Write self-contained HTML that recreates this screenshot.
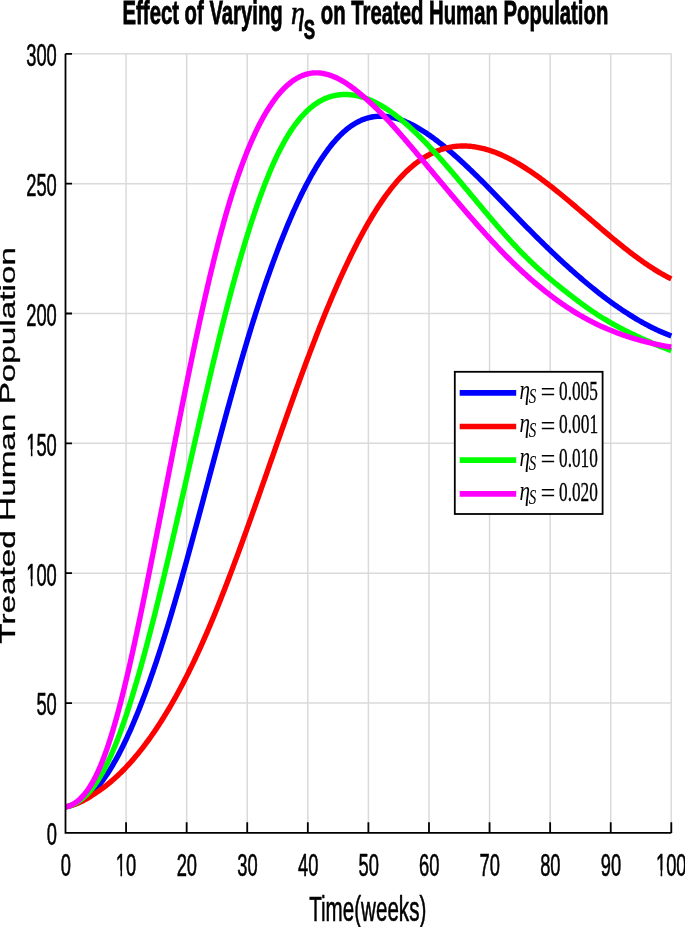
<!DOCTYPE html>
<html><head><meta charset="utf-8"><style>
html,body{margin:0;padding:0;background:#fff;overflow:hidden;}
svg{display:block;will-change:transform;}
text{fill:#000;}
</style></head><body>
<svg width="685" height="927" viewBox="0 0 685 927">
<rect x="0" y="0" width="685" height="927" fill="#fff"/>
<path d="M126.08,53.80V832.90M186.66,53.80V832.90M247.24,53.80V832.90M307.82,53.80V832.90M368.40,53.80V832.90M428.98,53.80V832.90M489.56,53.80V832.90M550.14,53.80V832.90M610.72,53.80V832.90M671.30,53.80V832.90M65.50,703.05H671.30M65.50,573.20H671.30M65.50,443.35H671.30M65.50,313.50H671.30M65.50,183.65H671.30M65.50,53.80H671.30" stroke="#dadada" stroke-width="1.5" fill="none"/>
<path d="M65.50,806.93 L66.71,806.68 L67.92,806.38 L69.13,806.05 L70.35,805.68 L71.56,805.27 L72.77,804.82 L73.98,804.33 L75.19,803.80 L76.40,803.23 L77.62,802.62 L78.83,801.97 L80.04,801.28 L81.25,800.54 L82.46,799.77 L83.67,798.95 L84.89,798.09 L86.10,797.21 L87.31,796.30 L88.52,795.35 L89.73,794.37 L90.94,793.34 L92.16,792.26 L93.37,791.13 L94.58,789.95 L95.79,788.71 L97.00,787.41 L98.21,786.05 L99.42,784.63 L100.64,783.13 L101.85,781.58 L103.06,779.96 L104.27,778.28 L105.48,776.54 L106.69,774.75 L107.91,772.90 L109.12,771.01 L110.33,769.08 L111.54,767.09 L112.75,765.05 L113.96,762.97 L115.18,760.83 L116.39,758.65 L117.60,756.42 L118.81,754.14 L120.02,751.81 L121.23,749.44 L122.45,747.02 L123.66,744.56 L124.87,742.04 L126.08,739.49 L127.29,736.88 L128.50,734.23 L129.71,731.54 L130.93,728.80 L132.14,726.02 L133.35,723.19 L134.56,720.32 L135.77,717.41 L136.98,714.45 L138.20,711.46 L139.41,708.41 L140.62,705.33 L141.83,702.20 L143.04,699.04 L144.25,695.83 L145.47,692.58 L146.68,689.29 L147.89,685.96 L149.10,682.59 L150.31,679.18 L151.52,675.73 L152.74,672.24 L153.95,668.72 L155.16,665.15 L156.37,661.55 L157.58,657.91 L158.79,654.23 L160.00,650.51 L161.22,646.76 L162.43,642.97 L163.64,639.14 L164.85,635.28 L166.06,631.38 L167.27,627.45 L168.49,623.48 L169.70,619.48 L170.91,615.45 L172.12,611.39 L173.33,607.30 L174.54,603.18 L175.76,599.03 L176.97,594.85 L178.18,590.65 L179.39,586.43 L180.60,582.17 L181.81,577.90 L183.03,573.61 L184.24,569.29 L185.45,564.95 L186.66,560.60 L187.87,556.22 L189.08,551.83 L190.29,547.43 L191.51,543.01 L192.72,538.57 L193.93,534.12 L195.14,529.66 L196.35,525.19 L197.56,520.71 L198.78,516.22 L199.99,511.72 L201.20,507.21 L202.41,502.70 L203.62,498.19 L204.83,493.67 L206.05,489.14 L207.26,484.62 L208.47,480.09 L209.68,475.56 L210.89,471.04 L212.10,466.51 L213.32,461.99 L214.53,457.47 L215.74,452.96 L216.95,448.46 L218.16,443.96 L219.37,439.46 L220.58,434.98 L221.80,430.51 L223.01,426.05 L224.22,421.60 L225.43,417.16 L226.64,412.74 L227.85,408.33 L229.07,403.93 L230.28,399.56 L231.49,395.20 L232.70,390.86 L233.91,386.54 L235.12,382.24 L236.34,377.97 L237.55,373.71 L238.76,369.48 L239.97,365.28 L241.18,361.10 L242.39,356.94 L243.61,352.82 L244.82,348.72 L246.03,344.66 L247.24,340.62 L248.45,336.62 L249.66,332.64 L250.87,328.70 L252.09,324.80 L253.30,320.92 L254.51,317.08 L255.72,313.27 L256.93,309.49 L258.14,305.74 L259.36,302.03 L260.57,298.35 L261.78,294.70 L262.99,291.09 L264.20,287.51 L265.41,283.96 L266.63,280.45 L267.84,276.97 L269.05,273.53 L270.26,270.12 L271.47,266.74 L272.68,263.40 L273.90,260.09 L275.11,256.82 L276.32,253.58 L277.53,250.37 L278.74,247.20 L279.95,244.07 L281.16,240.97 L282.38,237.91 L283.59,234.88 L284.80,231.89 L286.01,228.93 L287.22,226.01 L288.43,223.12 L289.65,220.28 L290.86,217.46 L292.07,214.69 L293.28,211.95 L294.49,209.24 L295.70,206.58 L296.92,203.95 L298.13,201.35 L299.34,198.80 L300.55,196.28 L301.76,193.80 L302.97,191.36 L304.19,188.95 L305.40,186.58 L306.61,184.25 L307.82,181.96 L309.03,179.70 L310.24,177.49 L311.45,175.31 L312.67,173.17 L313.88,171.07 L315.09,169.01 L316.30,166.98 L317.51,165.00 L318.72,163.06 L319.94,161.15 L321.15,159.28 L322.36,157.46 L323.57,155.67 L324.78,153.92 L325.99,152.22 L327.21,150.55 L328.42,148.92 L329.63,147.33 L330.84,145.79 L332.05,144.28 L333.26,142.82 L334.48,141.39 L335.69,140.01 L336.90,138.67 L338.11,137.36 L339.32,136.10 L340.53,134.89 L341.74,133.71 L342.96,132.57 L344.17,131.48 L345.38,130.43 L346.59,129.42 L347.80,128.45 L349.01,127.52 L350.23,126.63 L351.44,125.78 L352.65,124.97 L353.86,124.19 L355.07,123.46 L356.28,122.77 L357.50,122.11 L358.71,121.49 L359.92,120.90 L361.13,120.35 L362.34,119.84 L363.55,119.37 L364.77,118.92 L365.98,118.52 L367.19,118.15 L368.40,117.81 L369.61,117.50 L370.82,117.23 L372.03,116.99 L373.25,116.78 L374.46,116.61 L375.67,116.46 L376.88,116.35 L378.09,116.27 L379.30,116.22 L380.52,116.19 L381.73,116.20 L382.94,116.24 L384.15,116.30 L385.36,116.39 L386.57,116.51 L387.79,116.66 L389.00,116.83 L390.21,117.04 L391.42,117.26 L392.63,117.51 L393.84,117.79 L395.06,118.09 L396.27,118.42 L397.48,118.77 L398.69,119.15 L399.90,119.54 L401.11,119.97 L402.32,120.41 L403.54,120.87 L404.75,121.36 L405.96,121.87 L407.17,122.40 L408.38,122.94 L409.59,123.51 L410.81,124.10 L412.02,124.71 L413.23,125.33 L414.44,125.98 L415.65,126.64 L416.86,127.32 L418.08,128.01 L419.29,128.73 L420.50,129.46 L421.71,130.20 L422.92,130.96 L424.13,131.74 L425.35,132.53 L426.56,133.33 L427.77,134.15 L428.98,134.98 L430.19,135.82 L431.40,136.68 L432.61,137.55 L433.83,138.43 L435.04,139.32 L436.25,140.23 L437.46,141.15 L438.67,142.07 L439.88,143.02 L441.10,143.97 L442.31,144.93 L443.52,145.90 L444.73,146.88 L445.94,147.88 L447.15,148.88 L448.37,149.90 L449.58,150.92 L450.79,151.95 L452.00,153.00 L453.21,154.05 L454.42,155.11 L455.64,156.18 L456.85,157.25 L458.06,158.34 L459.27,159.43 L460.48,160.54 L461.69,161.65 L462.90,162.76 L464.12,163.89 L465.33,165.02 L466.54,166.16 L467.75,167.30 L468.96,168.46 L470.17,169.61 L471.39,170.78 L472.60,171.95 L473.81,173.13 L475.02,174.31 L476.23,175.49 L477.44,176.69 L478.66,177.88 L479.87,179.09 L481.08,180.29 L482.29,181.50 L483.50,182.72 L484.71,183.94 L485.93,185.16 L487.14,186.38 L488.35,187.61 L489.56,188.85 L490.77,190.08 L491.98,191.32 L493.19,192.56 L494.41,193.80 L495.62,195.05 L496.83,196.30 L498.04,197.54 L499.25,198.80 L500.46,200.05 L501.68,201.30 L502.89,202.55 L504.10,203.81 L505.31,205.06 L506.52,206.32 L507.73,207.57 L508.95,208.83 L510.16,210.09 L511.37,211.34 L512.58,212.59 L513.79,213.85 L515.00,215.10 L516.22,216.35 L517.43,217.60 L518.64,218.85 L519.85,220.10 L521.06,221.34 L522.27,222.58 L523.48,223.82 L524.70,225.06 L525.91,226.29 L527.12,227.52 L528.33,228.75 L529.54,229.97 L530.75,231.20 L531.97,232.41 L533.18,233.63 L534.39,234.84 L535.60,236.05 L536.81,237.26 L538.02,238.46 L539.24,239.66 L540.45,240.85 L541.66,242.04 L542.87,243.23 L544.08,244.41 L545.29,245.59 L546.51,246.77 L547.72,247.94 L548.93,249.11 L550.14,250.27 L551.35,251.43 L552.56,252.59 L553.77,253.74 L554.99,254.88 L556.20,256.03 L557.41,257.17 L558.62,258.30 L559.83,259.43 L561.04,260.55 L562.26,261.67 L563.47,262.79 L564.68,263.90 L565.89,265.00 L567.10,266.10 L568.31,267.20 L569.53,268.29 L570.74,269.38 L571.95,270.46 L573.16,271.53 L574.37,272.60 L575.58,273.67 L576.80,274.73 L578.01,275.78 L579.22,276.83 L580.43,277.87 L581.64,278.91 L582.85,279.94 L584.06,280.97 L585.28,281.99 L586.49,283.00 L587.70,284.01 L588.91,285.01 L590.12,286.01 L591.33,287.00 L592.55,287.99 L593.76,288.96 L594.97,289.94 L596.18,290.90 L597.39,291.86 L598.60,292.81 L599.82,293.76 L601.03,294.70 L602.24,295.63 L603.45,296.56 L604.66,297.48 L605.87,298.39 L607.09,299.30 L608.30,300.20 L609.51,301.09 L610.72,301.98 L611.93,302.85 L613.14,303.73 L614.35,304.59 L615.57,305.45 L616.78,306.30 L617.99,307.14 L619.20,307.97 L620.41,308.80 L621.62,309.62 L622.84,310.43 L624.05,311.24 L625.26,312.03 L626.47,312.82 L627.68,313.60 L628.89,314.38 L630.11,315.14 L631.32,315.90 L632.53,316.65 L633.74,317.39 L634.95,318.12 L636.16,318.85 L637.38,319.56 L638.59,320.27 L639.80,320.97 L641.01,321.66 L642.22,322.34 L643.43,323.02 L644.64,323.68 L645.86,324.34 L647.07,324.99 L648.28,325.62 L649.49,326.25 L650.70,326.88 L651.91,327.49 L653.13,328.09 L654.34,328.68 L655.55,329.27 L656.76,329.84 L657.97,330.41 L659.18,330.97 L660.40,331.51 L661.61,332.05 L662.82,332.58 L664.03,333.10 L665.24,333.61 L666.45,334.11 L667.67,334.60 L668.88,335.08 L670.09,335.55 L671.30,336.01" stroke="#0000ff" stroke-width="5.4" fill="none" stroke-linejoin="round"/>
<path d="M65.50,806.93 L66.71,806.68 L67.92,806.40 L69.13,806.10 L70.35,805.77 L71.56,805.40 L72.77,805.01 L73.98,804.60 L75.19,804.16 L76.40,803.69 L77.62,803.19 L78.83,802.67 L80.04,802.13 L81.25,801.55 L82.46,800.96 L83.67,800.34 L84.89,799.69 L86.10,799.02 L87.31,798.32 L88.52,797.60 L89.73,796.86 L90.94,796.10 L92.16,795.33 L93.37,794.54 L94.58,793.74 L95.79,792.94 L97.00,792.12 L98.21,791.29 L99.42,790.45 L100.64,789.60 L101.85,788.74 L103.06,787.86 L104.27,786.97 L105.48,786.06 L106.69,785.12 L107.91,784.16 L109.12,783.17 L110.33,782.16 L111.54,781.13 L112.75,780.08 L113.96,779.02 L115.18,777.93 L116.39,776.82 L117.60,775.70 L118.81,774.55 L120.02,773.38 L121.23,772.20 L122.45,770.99 L123.66,769.76 L124.87,768.51 L126.08,767.25 L127.29,765.96 L128.50,764.65 L129.71,763.32 L130.93,761.96 L132.14,760.59 L133.35,759.20 L134.56,757.78 L135.77,756.35 L136.98,754.89 L138.20,753.42 L139.41,751.92 L140.62,750.40 L141.83,748.86 L143.04,747.29 L144.25,745.71 L145.47,744.10 L146.68,742.47 L147.89,740.82 L149.10,739.15 L150.31,737.46 L151.52,735.74 L152.74,734.01 L153.95,732.25 L155.16,730.46 L156.37,728.66 L157.58,726.83 L158.79,724.98 L160.00,723.11 L161.22,721.22 L162.43,719.30 L163.64,717.36 L164.85,715.40 L166.06,713.42 L167.27,711.41 L168.49,709.38 L169.70,707.32 L170.91,705.25 L172.12,703.15 L173.33,701.02 L174.54,698.87 L175.76,696.70 L176.97,694.51 L178.18,692.29 L179.39,690.05 L180.60,687.79 L181.81,685.50 L183.03,683.19 L184.24,680.85 L185.45,678.49 L186.66,676.10 L187.87,673.70 L189.08,671.26 L190.29,668.81 L191.51,666.32 L192.72,663.82 L193.93,661.29 L195.14,658.73 L196.35,656.15 L197.56,653.55 L198.78,650.92 L199.99,648.27 L201.20,645.59 L202.41,642.88 L203.62,640.15 L204.83,637.40 L206.05,634.62 L207.26,631.82 L208.47,628.99 L209.68,626.13 L210.89,623.25 L212.10,620.35 L213.32,617.43 L214.53,614.48 L215.74,611.51 L216.95,608.53 L218.16,605.51 L219.37,602.48 L220.58,599.43 L221.80,596.36 L223.01,593.27 L224.22,590.16 L225.43,587.04 L226.64,583.89 L227.85,580.73 L229.07,577.55 L230.28,574.36 L231.49,571.15 L232.70,567.92 L233.91,564.68 L235.12,561.43 L236.34,558.16 L237.55,554.88 L238.76,551.58 L239.97,548.28 L241.18,544.96 L242.39,541.63 L243.61,538.29 L244.82,534.94 L246.03,531.57 L247.24,528.20 L248.45,524.82 L249.66,521.43 L250.87,518.04 L252.09,514.63 L253.30,511.22 L254.51,507.80 L255.72,504.38 L256.93,500.95 L258.14,497.51 L259.36,494.07 L260.57,490.63 L261.78,487.18 L262.99,483.73 L264.20,480.27 L265.41,476.82 L266.63,473.36 L267.84,469.90 L269.05,466.44 L270.26,462.98 L271.47,459.51 L272.68,456.05 L273.90,452.59 L275.11,449.14 L276.32,445.68 L277.53,442.22 L278.74,438.77 L279.95,435.33 L281.16,431.88 L282.38,428.44 L283.59,425.01 L284.80,421.58 L286.01,418.15 L287.22,414.74 L288.43,411.33 L289.65,407.92 L290.86,404.53 L292.07,401.14 L293.28,397.76 L294.49,394.39 L295.70,391.03 L296.92,387.68 L298.13,384.34 L299.34,381.01 L300.55,377.69 L301.76,374.39 L302.97,371.09 L304.19,367.81 L305.40,364.55 L306.61,361.30 L307.82,358.06 L309.03,354.83 L310.24,351.63 L311.45,348.43 L312.67,345.26 L313.88,342.10 L315.09,338.96 L316.30,335.83 L317.51,332.73 L318.72,329.64 L319.94,326.57 L321.15,323.52 L322.36,320.49 L323.57,317.48 L324.78,314.50 L325.99,311.53 L327.21,308.59 L328.42,305.67 L329.63,302.77 L330.84,299.89 L332.05,297.03 L333.26,294.20 L334.48,291.39 L335.69,288.60 L336.90,285.84 L338.11,283.10 L339.32,280.38 L340.53,277.69 L341.74,275.02 L342.96,272.38 L344.17,269.75 L345.38,267.16 L346.59,264.58 L347.80,262.04 L349.01,259.51 L350.23,257.01 L351.44,254.54 L352.65,252.09 L353.86,249.67 L355.07,247.27 L356.28,244.90 L357.50,242.56 L358.71,240.24 L359.92,237.95 L361.13,235.68 L362.34,233.44 L363.55,231.23 L364.77,229.04 L365.98,226.89 L367.19,224.75 L368.40,222.65 L369.61,220.58 L370.82,218.53 L372.03,216.51 L373.25,214.51 L374.46,212.55 L375.67,210.62 L376.88,208.71 L378.09,206.83 L379.30,204.98 L380.52,203.16 L381.73,201.37 L382.94,199.61 L384.15,197.88 L385.36,196.18 L386.57,194.51 L387.79,192.87 L389.00,191.26 L390.21,189.68 L391.42,188.13 L392.63,186.61 L393.84,185.12 L395.06,183.66 L396.27,182.24 L397.48,180.84 L398.69,179.48 L399.90,178.15 L401.11,176.84 L402.32,175.57 L403.54,174.33 L404.75,173.11 L405.96,171.93 L407.17,170.77 L408.38,169.65 L409.59,168.55 L410.81,167.48 L412.02,166.44 L413.23,165.43 L414.44,164.45 L415.65,163.49 L416.86,162.57 L418.08,161.67 L419.29,160.80 L420.50,159.95 L421.71,159.13 L422.92,158.34 L424.13,157.58 L425.35,156.84 L426.56,156.12 L427.77,155.44 L428.98,154.78 L430.19,154.14 L431.40,153.53 L432.61,152.95 L433.83,152.39 L435.04,151.86 L436.25,151.35 L437.46,150.86 L438.67,150.40 L439.88,149.96 L441.10,149.55 L442.31,149.16 L443.52,148.80 L444.73,148.45 L445.94,148.13 L447.15,147.84 L448.37,147.56 L449.58,147.31 L450.79,147.08 L452.00,146.88 L453.21,146.69 L454.42,146.53 L455.64,146.39 L456.85,146.27 L458.06,146.17 L459.27,146.09 L460.48,146.03 L461.69,146.00 L462.90,145.98 L464.12,145.98 L465.33,146.01 L466.54,146.05 L467.75,146.11 L468.96,146.20 L470.17,146.30 L471.39,146.42 L472.60,146.56 L473.81,146.72 L475.02,146.89 L476.23,147.09 L477.44,147.30 L478.66,147.53 L479.87,147.78 L481.08,148.05 L482.29,148.33 L483.50,148.63 L484.71,148.95 L485.93,149.28 L487.14,149.63 L488.35,150.00 L489.56,150.38 L490.77,150.78 L491.98,151.19 L493.19,151.62 L494.41,152.07 L495.62,152.53 L496.83,153.00 L498.04,153.49 L499.25,154.00 L500.46,154.52 L501.68,155.05 L502.89,155.60 L504.10,156.16 L505.31,156.73 L506.52,157.32 L507.73,157.92 L508.95,158.54 L510.16,159.17 L511.37,159.80 L512.58,160.46 L513.79,161.12 L515.00,161.80 L516.22,162.49 L517.43,163.19 L518.64,163.90 L519.85,164.62 L521.06,165.35 L522.27,166.10 L523.48,166.85 L524.70,167.62 L525.91,168.39 L527.12,169.18 L528.33,169.98 L529.54,170.78 L530.75,171.60 L531.97,172.42 L533.18,173.25 L534.39,174.10 L535.60,174.95 L536.81,175.81 L538.02,176.68 L539.24,177.55 L540.45,178.44 L541.66,179.33 L542.87,180.23 L544.08,181.13 L545.29,182.05 L546.51,182.97 L547.72,183.90 L548.93,184.83 L550.14,185.77 L551.35,186.72 L552.56,187.67 L553.77,188.63 L554.99,189.60 L556.20,190.57 L557.41,191.54 L558.62,192.52 L559.83,193.51 L561.04,194.50 L562.26,195.49 L563.47,196.49 L564.68,197.49 L565.89,198.50 L567.10,199.51 L568.31,200.52 L569.53,201.54 L570.74,202.56 L571.95,203.58 L573.16,204.61 L574.37,205.64 L575.58,206.67 L576.80,207.70 L578.01,208.74 L579.22,209.77 L580.43,210.81 L581.64,211.85 L582.85,212.89 L584.06,213.93 L585.28,214.97 L586.49,216.02 L587.70,217.06 L588.91,218.10 L590.12,219.15 L591.33,220.19 L592.55,221.23 L593.76,222.27 L594.97,223.32 L596.18,224.36 L597.39,225.40 L598.60,226.43 L599.82,227.47 L601.03,228.50 L602.24,229.54 L603.45,230.57 L604.66,231.60 L605.87,232.62 L607.09,233.65 L608.30,234.67 L609.51,235.68 L610.72,236.70 L611.93,237.71 L613.14,238.71 L614.35,239.72 L615.57,240.71 L616.78,241.71 L617.99,242.70 L619.20,243.68 L620.41,244.66 L621.62,245.64 L622.84,246.61 L624.05,247.57 L625.26,248.53 L626.47,249.49 L627.68,250.43 L628.89,251.37 L630.11,252.31 L631.32,253.24 L632.53,254.16 L633.74,255.07 L634.95,255.98 L636.16,256.88 L637.38,257.77 L638.59,258.66 L639.80,259.53 L641.01,260.40 L642.22,261.26 L643.43,262.11 L644.64,262.95 L645.86,263.79 L647.07,264.61 L648.28,265.43 L649.49,266.23 L650.70,267.03 L651.91,267.82 L653.13,268.59 L654.34,269.36 L655.55,270.11 L656.76,270.86 L657.97,271.59 L659.18,272.31 L660.40,273.03 L661.61,273.73 L662.82,274.41 L664.03,275.09 L665.24,275.76 L666.45,276.41 L667.67,277.05 L668.88,277.67 L670.09,278.29 L671.30,278.89" stroke="#ff0000" stroke-width="5.4" fill="none" stroke-linejoin="round"/>
<path d="M65.50,806.93 L66.71,806.67 L67.92,806.37 L69.13,806.01 L70.35,805.60 L71.56,805.14 L72.77,804.63 L73.98,804.06 L75.19,803.44 L76.40,802.77 L77.62,802.03 L78.83,801.24 L80.04,800.39 L81.25,799.49 L82.46,798.52 L83.67,797.49 L84.89,796.40 L86.10,795.25 L87.31,794.03 L88.52,792.75 L89.73,791.40 L90.94,789.98 L92.16,788.49 L93.37,786.93 L94.58,785.28 L95.79,783.56 L97.00,781.76 L98.21,779.89 L99.42,777.93 L100.64,775.89 L101.85,773.78 L103.06,771.58 L104.27,769.31 L105.48,766.96 L106.69,764.54 L107.91,762.04 L109.12,759.47 L110.33,756.82 L111.54,754.09 L112.75,751.28 L113.96,748.40 L115.18,745.43 L116.39,742.40 L117.60,739.29 L118.81,736.10 L120.02,732.85 L121.23,729.52 L122.45,726.13 L123.66,722.66 L124.87,719.13 L126.08,715.54 L127.29,711.88 L128.50,708.15 L129.71,704.37 L130.93,700.52 L132.14,696.61 L133.35,692.65 L134.56,688.62 L135.77,684.54 L136.98,680.41 L138.20,676.22 L139.41,671.98 L140.62,667.68 L141.83,663.34 L143.04,658.95 L144.25,654.50 L145.47,650.01 L146.68,645.48 L147.89,640.90 L149.10,636.28 L150.31,631.61 L151.52,626.90 L152.74,622.15 L153.95,617.37 L155.16,612.54 L156.37,607.68 L157.58,602.79 L158.79,597.86 L160.00,592.89 L161.22,587.90 L162.43,582.87 L163.64,577.82 L164.85,572.74 L166.06,567.63 L167.27,562.50 L168.49,557.34 L169.70,552.16 L170.91,546.96 L172.12,541.75 L173.33,536.51 L174.54,531.26 L175.76,525.99 L176.97,520.71 L178.18,515.41 L179.39,510.11 L180.60,504.79 L181.81,499.47 L183.03,494.13 L184.24,488.80 L185.45,483.45 L186.66,478.11 L187.87,472.76 L189.08,467.41 L190.29,462.06 L191.51,456.72 L192.72,451.38 L193.93,446.04 L195.14,440.71 L196.35,435.38 L197.56,430.07 L198.78,424.76 L199.99,419.47 L201.20,414.19 L202.41,408.92 L203.62,403.67 L204.83,398.44 L206.05,393.23 L207.26,388.03 L208.47,382.85 L209.68,377.70 L210.89,372.57 L212.10,367.47 L213.32,362.39 L214.53,357.34 L215.74,352.32 L216.95,347.33 L218.16,342.37 L219.37,337.44 L220.58,332.55 L221.80,327.70 L223.01,322.88 L224.22,318.10 L225.43,313.36 L226.64,308.66 L227.85,304.00 L229.07,299.38 L230.28,294.80 L231.49,290.27 L232.70,285.78 L233.91,281.34 L235.12,276.94 L236.34,272.58 L237.55,268.27 L238.76,264.00 L239.97,259.78 L241.18,255.61 L242.39,251.48 L243.61,247.41 L244.82,243.38 L246.03,239.40 L247.24,235.46 L248.45,231.58 L249.66,227.75 L250.87,223.97 L252.09,220.24 L253.30,216.56 L254.51,212.94 L255.72,209.37 L256.93,205.85 L258.14,202.38 L259.36,198.97 L260.57,195.62 L261.78,192.32 L262.99,189.07 L264.20,185.88 L265.41,182.75 L266.63,179.68 L267.84,176.66 L269.05,173.71 L270.26,170.81 L271.47,167.97 L272.68,165.19 L273.90,162.47 L275.11,159.81 L276.32,157.21 L277.53,154.68 L278.74,152.21 L279.95,149.80 L281.16,147.45 L282.38,145.17 L283.59,142.94 L284.80,140.78 L286.01,138.67 L287.22,136.63 L288.43,134.64 L289.65,132.71 L290.86,130.84 L292.07,129.02 L293.28,127.26 L294.49,125.55 L295.70,123.90 L296.92,122.30 L298.13,120.76 L299.34,119.26 L300.55,117.82 L301.76,116.43 L302.97,115.09 L304.19,113.80 L305.40,112.55 L306.61,111.36 L307.82,110.21 L309.03,109.11 L310.24,108.06 L311.45,107.05 L312.67,106.08 L313.88,105.16 L315.09,104.28 L316.30,103.45 L317.51,102.66 L318.72,101.91 L319.94,101.20 L321.15,100.53 L322.36,99.89 L323.57,99.30 L324.78,98.75 L325.99,98.23 L327.21,97.75 L328.42,97.31 L329.63,96.90 L330.84,96.52 L332.05,96.18 L333.26,95.87 L334.48,95.60 L335.69,95.36 L336.90,95.14 L338.11,94.96 L339.32,94.81 L340.53,94.69 L341.74,94.60 L342.96,94.53 L344.17,94.49 L345.38,94.49 L346.59,94.50 L347.80,94.55 L349.01,94.62 L350.23,94.72 L351.44,94.85 L352.65,95.00 L353.86,95.18 L355.07,95.39 L356.28,95.62 L357.50,95.88 L358.71,96.16 L359.92,96.46 L361.13,96.79 L362.34,97.15 L363.55,97.53 L364.77,97.93 L365.98,98.35 L367.19,98.80 L368.40,99.27 L369.61,99.77 L370.82,100.29 L372.03,100.82 L373.25,101.39 L374.46,101.97 L375.67,102.57 L376.88,103.20 L378.09,103.84 L379.30,104.51 L380.52,105.19 L381.73,105.90 L382.94,106.63 L384.15,107.37 L385.36,108.14 L386.57,108.92 L387.79,109.72 L389.00,110.54 L390.21,111.38 L391.42,112.24 L392.63,113.12 L393.84,114.01 L395.06,114.92 L396.27,115.84 L397.48,116.79 L398.69,117.74 L399.90,118.72 L401.11,119.71 L402.32,120.72 L403.54,121.74 L404.75,122.77 L405.96,123.83 L407.17,124.89 L408.38,125.97 L409.59,127.07 L410.81,128.17 L412.02,129.29 L413.23,130.43 L414.44,131.57 L415.65,132.73 L416.86,133.91 L418.08,135.09 L419.29,136.29 L420.50,137.49 L421.71,138.71 L422.92,139.94 L424.13,141.18 L425.35,142.44 L426.56,143.70 L427.77,144.97 L428.98,146.25 L430.19,147.54 L431.40,148.84 L432.61,150.15 L433.83,151.47 L435.04,152.79 L436.25,154.13 L437.46,155.47 L438.67,156.82 L439.88,158.17 L441.10,159.54 L442.31,160.91 L443.52,162.29 L444.73,163.67 L445.94,165.06 L447.15,166.46 L448.37,167.86 L449.58,169.26 L450.79,170.67 L452.00,172.09 L453.21,173.51 L454.42,174.93 L455.64,176.36 L456.85,177.80 L458.06,179.23 L459.27,180.67 L460.48,182.11 L461.69,183.56 L462.90,185.00 L464.12,186.45 L465.33,187.90 L466.54,189.35 L467.75,190.81 L468.96,192.26 L470.17,193.72 L471.39,195.17 L472.60,196.63 L473.81,198.08 L475.02,199.54 L476.23,200.99 L477.44,202.45 L478.66,203.90 L479.87,205.35 L481.08,206.80 L482.29,208.25 L483.50,209.70 L484.71,211.14 L485.93,212.58 L487.14,214.02 L488.35,215.46 L489.56,216.89 L490.77,218.32 L491.98,219.74 L493.19,221.16 L494.41,222.57 L495.62,223.98 L496.83,225.39 L498.04,226.79 L499.25,228.18 L500.46,229.57 L501.68,230.96 L502.89,232.33 L504.10,233.70 L505.31,235.06 L506.52,236.42 L507.73,237.77 L508.95,239.11 L510.16,240.44 L511.37,241.77 L512.58,243.08 L513.79,244.39 L515.00,245.69 L516.22,246.98 L517.43,248.26 L518.64,249.53 L519.85,250.79 L521.06,252.03 L522.27,253.27 L523.48,254.50 L524.70,255.72 L525.91,256.92 L527.12,258.12 L528.33,259.30 L529.54,260.47 L530.75,261.64 L531.97,262.79 L533.18,263.93 L534.39,265.06 L535.60,266.18 L536.81,267.29 L538.02,268.40 L539.24,269.49 L540.45,270.57 L541.66,271.65 L542.87,272.72 L544.08,273.78 L545.29,274.83 L546.51,275.87 L547.72,276.91 L548.93,277.94 L550.14,278.96 L551.35,279.98 L552.56,280.99 L553.77,281.99 L554.99,282.98 L556.20,283.97 L557.41,284.96 L558.62,285.94 L559.83,286.91 L561.04,287.88 L562.26,288.84 L563.47,289.80 L564.68,290.76 L565.89,291.71 L567.10,292.65 L568.31,293.60 L569.53,294.53 L570.74,295.47 L571.95,296.40 L573.16,297.33 L574.37,298.26 L575.58,299.18 L576.80,300.10 L578.01,301.02 L579.22,301.93 L580.43,302.84 L581.64,303.74 L582.85,304.64 L584.06,305.52 L585.28,306.40 L586.49,307.27 L587.70,308.12 L588.91,308.97 L590.12,309.81 L591.33,310.64 L592.55,311.46 L593.76,312.27 L594.97,313.07 L596.18,313.87 L597.39,314.65 L598.60,315.43 L599.82,316.19 L601.03,316.95 L602.24,317.70 L603.45,318.45 L604.66,319.18 L605.87,319.91 L607.09,320.63 L608.30,321.34 L609.51,322.04 L610.72,322.74 L611.93,323.43 L613.14,324.11 L614.35,324.79 L615.57,325.46 L616.78,326.12 L617.99,326.77 L619.20,327.42 L620.41,328.06 L621.62,328.70 L622.84,329.33 L624.05,329.95 L625.26,330.57 L626.47,331.18 L627.68,331.78 L628.89,332.38 L630.11,332.98 L631.32,333.57 L632.53,334.15 L633.74,334.73 L634.95,335.30 L636.16,335.87 L637.38,336.44 L638.59,337.00 L639.80,337.55 L641.01,338.10 L642.22,338.65 L643.43,339.19 L644.64,339.72 L645.86,340.26 L647.07,340.79 L648.28,341.31 L649.49,341.83 L650.70,342.35 L651.91,342.87 L653.13,343.38 L654.34,343.89 L655.55,344.39 L656.76,344.90 L657.97,345.40 L659.18,345.89 L660.40,346.39 L661.61,346.88 L662.82,347.37 L664.03,347.86 L665.24,348.34 L666.45,348.83 L667.67,349.31 L668.88,349.79 L670.09,350.27 L671.30,350.74" stroke="#00ff00" stroke-width="5.4" fill="none" stroke-linejoin="round"/>
<path d="M65.50,806.93 L66.71,806.66 L67.92,806.33 L69.13,805.92 L70.35,805.45 L71.56,804.90 L72.77,804.28 L73.98,803.58 L75.19,802.81 L76.40,801.96 L77.62,801.02 L78.83,800.01 L80.04,798.91 L81.25,797.73 L82.46,796.46 L83.67,795.10 L84.89,793.65 L86.10,792.12 L87.31,790.49 L88.52,788.77 L89.73,786.94 L90.94,785.01 L92.16,782.97 L93.37,780.82 L94.58,778.55 L95.79,776.17 L97.00,773.68 L98.21,771.07 L99.42,768.34 L100.64,765.49 L101.85,762.53 L103.06,759.45 L104.27,756.26 L105.48,752.96 L106.69,749.56 L107.91,746.05 L109.12,742.43 L110.33,738.69 L111.54,734.83 L112.75,730.86 L113.96,726.78 L115.18,722.58 L116.39,718.28 L117.60,713.88 L118.81,709.37 L120.02,704.77 L121.23,700.07 L122.45,695.29 L123.66,690.41 L124.87,685.45 L126.08,680.40 L127.29,675.28 L128.50,670.08 L129.71,664.81 L130.93,659.47 L132.14,654.06 L133.35,648.58 L134.56,643.05 L135.77,637.46 L136.98,631.81 L138.20,626.11 L139.41,620.36 L140.62,614.57 L141.83,608.74 L143.04,602.86 L144.25,596.95 L145.47,591.01 L146.68,585.03 L147.89,579.03 L149.10,573.00 L150.31,566.96 L151.52,560.89 L152.74,554.80 L153.95,548.70 L155.16,542.58 L156.37,536.45 L157.58,530.31 L158.79,524.16 L160.00,517.99 L161.22,511.83 L162.43,505.65 L163.64,499.47 L164.85,493.29 L166.06,487.11 L167.27,480.93 L168.49,474.75 L169.70,468.58 L170.91,462.41 L172.12,456.25 L173.33,450.10 L174.54,443.95 L175.76,437.82 L176.97,431.71 L178.18,425.60 L179.39,419.52 L180.60,413.45 L181.81,407.40 L183.03,401.38 L184.24,395.38 L185.45,389.40 L186.66,383.45 L187.87,377.52 L189.08,371.63 L190.29,365.76 L191.51,359.93 L192.72,354.14 L193.93,348.37 L195.14,342.65 L196.35,336.96 L197.56,331.32 L198.78,325.72 L199.99,320.16 L201.20,314.64 L202.41,309.18 L203.62,303.76 L204.83,298.39 L206.05,293.07 L207.26,287.81 L208.47,282.60 L209.68,277.44 L210.89,272.35 L212.10,267.31 L213.32,262.34 L214.53,257.43 L215.74,252.58 L216.95,247.80 L218.16,243.08 L219.37,238.43 L220.58,233.86 L221.80,229.36 L223.01,224.93 L224.22,220.57 L225.43,216.29 L226.64,212.08 L227.85,207.95 L229.07,203.89 L230.28,199.90 L231.49,195.98 L232.70,192.13 L233.91,188.35 L235.12,184.65 L236.34,181.01 L237.55,177.44 L238.76,173.94 L239.97,170.51 L241.18,167.15 L242.39,163.86 L243.61,160.63 L244.82,157.47 L246.03,154.38 L247.24,151.35 L248.45,148.38 L249.66,145.49 L250.87,142.65 L252.09,139.88 L253.30,137.18 L254.51,134.53 L255.72,131.95 L256.93,129.43 L258.14,126.98 L259.36,124.58 L260.57,122.25 L261.78,119.97 L262.99,117.76 L264.20,115.60 L265.41,113.51 L266.63,111.47 L267.84,109.49 L269.05,107.57 L270.26,105.70 L271.47,103.90 L272.68,102.15 L273.90,100.45 L275.11,98.81 L276.32,97.23 L277.53,95.70 L278.74,94.22 L279.95,92.80 L281.16,91.43 L282.38,90.11 L283.59,88.85 L284.80,87.64 L286.01,86.47 L287.22,85.36 L288.43,84.30 L289.65,83.30 L290.86,82.34 L292.07,81.42 L293.28,80.56 L294.49,79.75 L295.70,78.98 L296.92,78.26 L298.13,77.59 L299.34,76.97 L300.55,76.39 L301.76,75.85 L302.97,75.37 L304.19,74.92 L305.40,74.52 L306.61,74.17 L307.82,73.85 L309.03,73.58 L310.24,73.36 L311.45,73.17 L312.67,73.03 L313.88,72.92 L315.09,72.86 L316.30,72.84 L317.51,72.86 L318.72,72.91 L319.94,73.01 L321.15,73.14 L322.36,73.32 L323.57,73.52 L324.78,73.77 L325.99,74.05 L327.21,74.37 L328.42,74.72 L329.63,75.10 L330.84,75.51 L332.05,75.96 L333.26,76.44 L334.48,76.95 L335.69,77.49 L336.90,78.06 L338.11,78.66 L339.32,79.29 L340.53,79.94 L341.74,80.62 L342.96,81.33 L344.17,82.06 L345.38,82.82 L346.59,83.60 L347.80,84.40 L349.01,85.23 L350.23,86.08 L351.44,86.95 L352.65,87.84 L353.86,88.74 L355.07,89.67 L356.28,90.62 L357.50,91.58 L358.71,92.56 L359.92,93.56 L361.13,94.57 L362.34,95.60 L363.55,96.64 L364.77,97.70 L365.98,98.77 L367.19,99.85 L368.40,100.94 L369.61,102.04 L370.82,103.16 L372.03,104.28 L373.25,105.42 L374.46,106.57 L375.67,107.73 L376.88,108.91 L378.09,110.10 L379.30,111.30 L380.52,112.52 L381.73,113.76 L382.94,115.00 L384.15,116.26 L385.36,117.53 L386.57,118.82 L387.79,120.12 L389.00,121.42 L390.21,122.74 L391.42,124.07 L392.63,125.41 L393.84,126.75 L395.06,128.11 L396.27,129.47 L397.48,130.85 L398.69,132.23 L399.90,133.61 L401.11,135.00 L402.32,136.40 L403.54,137.80 L404.75,139.21 L405.96,140.62 L407.17,142.04 L408.38,143.46 L409.59,144.88 L410.81,146.31 L412.02,147.73 L413.23,149.16 L414.44,150.60 L415.65,152.03 L416.86,153.47 L418.08,154.90 L419.29,156.34 L420.50,157.79 L421.71,159.23 L422.92,160.67 L424.13,162.12 L425.35,163.56 L426.56,165.01 L427.77,166.46 L428.98,167.91 L430.19,169.36 L431.40,170.81 L432.61,172.26 L433.83,173.71 L435.04,175.16 L436.25,176.61 L437.46,178.06 L438.67,179.51 L439.88,180.96 L441.10,182.41 L442.31,183.85 L443.52,185.30 L444.73,186.75 L445.94,188.19 L447.15,189.64 L448.37,191.08 L449.58,192.52 L450.79,193.96 L452.00,195.40 L453.21,196.84 L454.42,198.27 L455.64,199.70 L456.85,201.13 L458.06,202.56 L459.27,203.98 L460.48,205.41 L461.69,206.83 L462.90,208.24 L464.12,209.66 L465.33,211.07 L466.54,212.48 L467.75,213.88 L468.96,215.28 L470.17,216.68 L471.39,218.07 L472.60,219.46 L473.81,220.85 L475.02,222.23 L476.23,223.60 L477.44,224.98 L478.66,226.34 L479.87,227.71 L481.08,229.07 L482.29,230.42 L483.50,231.77 L484.71,233.11 L485.93,234.45 L487.14,235.79 L488.35,237.11 L489.56,238.43 L490.77,239.75 L491.98,241.06 L493.19,242.37 L494.41,243.66 L495.62,244.95 L496.83,246.24 L498.04,247.52 L499.25,248.79 L500.46,250.06 L501.68,251.31 L502.89,252.57 L504.10,253.81 L505.31,255.05 L506.52,256.28 L507.73,257.50 L508.95,258.71 L510.16,259.92 L511.37,261.12 L512.58,262.31 L513.79,263.49 L515.00,264.66 L516.22,265.83 L517.43,266.99 L518.64,268.14 L519.85,269.28 L521.06,270.41 L522.27,271.54 L523.48,272.65 L524.70,273.76 L525.91,274.86 L527.12,275.95 L528.33,277.04 L529.54,278.11 L530.75,279.18 L531.97,280.24 L533.18,281.29 L534.39,282.33 L535.60,283.36 L536.81,284.39 L538.02,285.40 L539.24,286.41 L540.45,287.41 L541.66,288.40 L542.87,289.38 L544.08,290.36 L545.29,291.32 L546.51,292.28 L547.72,293.23 L548.93,294.17 L550.14,295.10 L551.35,296.02 L552.56,296.93 L553.77,297.84 L554.99,298.73 L556.20,299.62 L557.41,300.50 L558.62,301.37 L559.83,302.23 L561.04,303.08 L562.26,303.93 L563.47,304.76 L564.68,305.59 L565.89,306.40 L567.10,307.21 L568.31,308.01 L569.53,308.80 L570.74,309.58 L571.95,310.35 L573.16,311.12 L574.37,311.87 L575.58,312.61 L576.80,313.35 L578.01,314.08 L579.22,314.80 L580.43,315.50 L581.64,316.20 L582.85,316.89 L584.06,317.58 L585.28,318.25 L586.49,318.91 L587.70,319.57 L588.91,320.21 L590.12,320.85 L591.33,321.47 L592.55,322.09 L593.76,322.70 L594.97,323.30 L596.18,323.90 L597.39,324.48 L598.60,325.06 L599.82,325.62 L601.03,326.18 L602.24,326.74 L603.45,327.28 L604.66,327.81 L605.87,328.34 L607.09,328.86 L608.30,329.37 L609.51,329.88 L610.72,330.37 L611.93,330.86 L613.14,331.34 L614.35,331.82 L615.57,332.28 L616.78,332.74 L617.99,333.19 L619.20,333.64 L620.41,334.08 L621.62,334.51 L622.84,334.93 L624.05,335.35 L625.26,335.76 L626.47,336.17 L627.68,336.57 L628.89,336.96 L630.11,337.34 L631.32,337.72 L632.53,338.09 L633.74,338.46 L634.95,338.82 L636.16,339.17 L637.38,339.52 L638.59,339.86 L639.80,340.20 L641.01,340.53 L642.22,340.86 L643.43,341.18 L644.64,341.49 L645.86,341.80 L647.07,342.11 L648.28,342.40 L649.49,342.70 L650.70,342.99 L651.91,343.27 L653.13,343.55 L654.34,343.82 L655.55,344.09 L656.76,344.35 L657.97,344.61 L659.18,344.87 L660.40,345.12 L661.61,345.37 L662.82,345.61 L664.03,345.85 L665.24,346.08 L666.45,346.31 L667.67,346.53 L668.88,346.76 L670.09,346.97 L671.30,347.19" stroke="#ff00ff" stroke-width="5.4" fill="none" stroke-linejoin="round"/>
<path d="M65.50,53.80V832.90H671.30M65.50,703.05h6.5M65.50,573.20h6.5M65.50,443.35h6.5M65.50,313.50h6.5M65.50,183.65h6.5M65.50,53.80h6.5M126.08,832.90v-10.6M186.66,832.90v-10.6M247.24,832.90v-10.6M307.82,832.90v-10.6M368.40,832.90v-10.6M428.98,832.90v-10.6M489.56,832.90v-10.6M550.14,832.90v-10.6M610.72,832.90v-10.6M671.30,832.90v-10.6" stroke="#000" stroke-width="1.8" fill="none"/>
<text transform="translate(46.68,845.20) scale(0.1830,0.3080)" font-family="&quot;Liberation Sans&quot;, sans-serif" font-size="100" stroke="#000" stroke-width="0.5" vector-effect="non-scaling-stroke">0</text>
<text transform="translate(36.43,715.35) scale(0.1830,0.3080)" font-family="&quot;Liberation Sans&quot;, sans-serif" font-size="100" stroke="#000" stroke-width="0.5" vector-effect="non-scaling-stroke">50</text>
<text transform="translate(26.27,585.50) scale(0.1830,0.3080)" font-family="&quot;Liberation Sans&quot;, sans-serif" font-size="100" stroke="#000" stroke-width="0.5" vector-effect="non-scaling-stroke">100</text>
<path transform="translate(26.27,585.50) scale(0.1830,0.3080)" fill="#fff" d="M2.15,-20.51H25.15V4.87H2.15Z M33.98,-20.51H56.20V4.87H33.98Z"/>
<text transform="translate(26.27,455.65) scale(0.1830,0.3080)" font-family="&quot;Liberation Sans&quot;, sans-serif" font-size="100" stroke="#000" stroke-width="0.5" vector-effect="non-scaling-stroke">150</text>
<path transform="translate(26.27,455.65) scale(0.1830,0.3080)" fill="#fff" d="M2.15,-20.51H25.15V4.87H2.15Z M33.98,-20.51H56.20V4.87H33.98Z"/>
<text transform="translate(26.27,325.80) scale(0.1830,0.3080)" font-family="&quot;Liberation Sans&quot;, sans-serif" font-size="100" stroke="#000" stroke-width="0.5" vector-effect="non-scaling-stroke">200</text>
<text transform="translate(26.27,195.95) scale(0.1830,0.3080)" font-family="&quot;Liberation Sans&quot;, sans-serif" font-size="100" stroke="#000" stroke-width="0.5" vector-effect="non-scaling-stroke">250</text>
<text transform="translate(26.27,66.10) scale(0.1830,0.3080)" font-family="&quot;Liberation Sans&quot;, sans-serif" font-size="100" stroke="#000" stroke-width="0.5" vector-effect="non-scaling-stroke">300</text>
<text transform="translate(60.72,876.45) scale(0.1830,0.3080)" font-family="&quot;Liberation Sans&quot;, sans-serif" font-size="100" stroke="#000" stroke-width="0.5" vector-effect="non-scaling-stroke">0</text>
<text transform="translate(115.86,876.45) scale(0.1830,0.3080)" font-family="&quot;Liberation Sans&quot;, sans-serif" font-size="100" stroke="#000" stroke-width="0.5" vector-effect="non-scaling-stroke">10</text>
<path transform="translate(115.86,876.45) scale(0.1830,0.3080)" fill="#fff" d="M2.15,-20.51H25.15V4.87H2.15Z M33.98,-20.51H56.20V4.87H33.98Z"/>
<text transform="translate(176.67,876.45) scale(0.1830,0.3080)" font-family="&quot;Liberation Sans&quot;, sans-serif" font-size="100" stroke="#000" stroke-width="0.5" vector-effect="non-scaling-stroke">20</text>
<text transform="translate(237.34,876.45) scale(0.1830,0.3080)" font-family="&quot;Liberation Sans&quot;, sans-serif" font-size="100" stroke="#000" stroke-width="0.5" vector-effect="non-scaling-stroke">30</text>
<text transform="translate(298.06,876.45) scale(0.1830,0.3080)" font-family="&quot;Liberation Sans&quot;, sans-serif" font-size="100" stroke="#000" stroke-width="0.5" vector-effect="non-scaling-stroke">40</text>
<text transform="translate(358.50,876.45) scale(0.1830,0.3080)" font-family="&quot;Liberation Sans&quot;, sans-serif" font-size="100" stroke="#000" stroke-width="0.5" vector-effect="non-scaling-stroke">50</text>
<text transform="translate(418.99,876.45) scale(0.1830,0.3080)" font-family="&quot;Liberation Sans&quot;, sans-serif" font-size="100" stroke="#000" stroke-width="0.5" vector-effect="non-scaling-stroke">60</text>
<text transform="translate(479.57,876.45) scale(0.1830,0.3080)" font-family="&quot;Liberation Sans&quot;, sans-serif" font-size="100" stroke="#000" stroke-width="0.5" vector-effect="non-scaling-stroke">70</text>
<text transform="translate(540.19,876.45) scale(0.1830,0.3080)" font-family="&quot;Liberation Sans&quot;, sans-serif" font-size="100" stroke="#000" stroke-width="0.5" vector-effect="non-scaling-stroke">80</text>
<text transform="translate(600.77,876.45) scale(0.1830,0.3080)" font-family="&quot;Liberation Sans&quot;, sans-serif" font-size="100" stroke="#000" stroke-width="0.5" vector-effect="non-scaling-stroke">90</text>
<text transform="translate(656.00,876.45) scale(0.1830,0.3080)" font-family="&quot;Liberation Sans&quot;, sans-serif" font-size="100" stroke="#000" stroke-width="0.5" vector-effect="non-scaling-stroke">100</text>
<path transform="translate(656.00,876.45) scale(0.1830,0.3080)" fill="#fff" d="M2.15,-20.51H25.15V4.87H2.15Z M33.98,-20.51H56.20V4.87H33.98Z"/>
<text transform="translate(309.19,920.70) scale(0.2060,0.3450)" font-family="&quot;Liberation Sans&quot;, sans-serif" font-size="100" stroke="#000" stroke-width="0.5" vector-effect="non-scaling-stroke">Time(weeks)</text>
<text transform="translate(14.7,643.63) rotate(-90) scale(0.3330,0.2150)" font-family="&quot;Liberation Sans&quot;, sans-serif" font-size="100" stroke="#000" stroke-width="0.35" vector-effect="non-scaling-stroke">Treated Human Population</text>
<text transform="translate(122.58,23.60) scale(0.2030,0.3350)" font-family="&quot;Liberation Sans&quot;, sans-serif" font-weight="bold" font-size="100" stroke="#000" stroke-width="0.7" vector-effect="non-scaling-stroke">Effect of Varying</text>
<text transform="translate(291.02,24.10) scale(0.2786,0.3382)" font-family="&quot;Liberation Serif&quot;, serif" font-style="italic" font-size="100" stroke="#000" stroke-width="0.6" vector-effect="non-scaling-stroke">η</text>
<text transform="translate(303.69,39.03) scale(0.1700,0.2732)" font-family="&quot;Liberation Sans&quot;, sans-serif" font-weight="bold" font-size="100" stroke="#000" stroke-width="0.7" vector-effect="non-scaling-stroke">S</text>
<text transform="translate(320.79,23.60) scale(0.2030,0.3350)" font-family="&quot;Liberation Sans&quot;, sans-serif" font-weight="bold" font-size="100" stroke="#000" stroke-width="0.7" vector-effect="non-scaling-stroke">on Treated Human Population</text>
<rect x="454.8" y="371.8" width="147.8" height="142.2" fill="#fff" stroke="#000" stroke-width="1.8"/>
<path d="M459.7,392.8H516.2" stroke="#0000ff" stroke-width="5.7"/>
<text transform="translate(519.56,398.70) scale(0.2119,0.2809)" font-family="&quot;Liberation Serif&quot;, serif" font-style="italic" font-size="100">η</text>
<text transform="translate(528.65,403.09) scale(0.1516,0.2060)" font-family="&quot;Liberation Serif&quot;, serif" font-style="italic" font-size="100">S</text>
<text transform="translate(540.58,401.90) scale(0.2645,0.2880)" font-family="&quot;Liberation Serif&quot;, serif" font-size="100">=</text>
<text transform="translate(559.01,399.58) scale(0.1724,0.2809)" font-family="&quot;Liberation Serif&quot;, serif" font-size="100" stroke="#000" stroke-width="0.3" vector-effect="non-scaling-stroke">0.005</text>
<path d="M459.7,426.5H516.2" stroke="#ff0000" stroke-width="5.7"/>
<text transform="translate(519.56,432.40) scale(0.2119,0.2809)" font-family="&quot;Liberation Serif&quot;, serif" font-style="italic" font-size="100">η</text>
<text transform="translate(528.65,436.79) scale(0.1516,0.2060)" font-family="&quot;Liberation Serif&quot;, serif" font-style="italic" font-size="100">S</text>
<text transform="translate(540.58,435.60) scale(0.2645,0.2880)" font-family="&quot;Liberation Serif&quot;, serif" font-size="100">=</text>
<text transform="translate(559.00,433.28) scale(0.1740,0.2809)" font-family="&quot;Liberation Serif&quot;, serif" font-size="100" stroke="#000" stroke-width="0.3" vector-effect="non-scaling-stroke">0.001</text>
<path d="M459.7,460.2H516.2" stroke="#00ff00" stroke-width="5.7"/>
<text transform="translate(519.56,466.10) scale(0.2119,0.2809)" font-family="&quot;Liberation Serif&quot;, serif" font-style="italic" font-size="100">η</text>
<text transform="translate(528.65,470.49) scale(0.1516,0.2060)" font-family="&quot;Liberation Serif&quot;, serif" font-style="italic" font-size="100">S</text>
<text transform="translate(540.58,469.30) scale(0.2645,0.2880)" font-family="&quot;Liberation Serif&quot;, serif" font-size="100">=</text>
<text transform="translate(559.01,466.98) scale(0.1724,0.2809)" font-family="&quot;Liberation Serif&quot;, serif" font-size="100" stroke="#000" stroke-width="0.3" vector-effect="non-scaling-stroke">0.010</text>
<path d="M459.7,493.9H516.2" stroke="#ff00ff" stroke-width="5.7"/>
<text transform="translate(519.56,499.80) scale(0.2119,0.2809)" font-family="&quot;Liberation Serif&quot;, serif" font-style="italic" font-size="100">η</text>
<text transform="translate(528.65,504.19) scale(0.1516,0.2060)" font-family="&quot;Liberation Serif&quot;, serif" font-style="italic" font-size="100">S</text>
<text transform="translate(540.58,503.00) scale(0.2645,0.2880)" font-family="&quot;Liberation Serif&quot;, serif" font-size="100">=</text>
<text transform="translate(559.01,500.68) scale(0.1724,0.2809)" font-family="&quot;Liberation Serif&quot;, serif" font-size="100" stroke="#000" stroke-width="0.3" vector-effect="non-scaling-stroke">0.020</text>
</svg>
</body></html>
